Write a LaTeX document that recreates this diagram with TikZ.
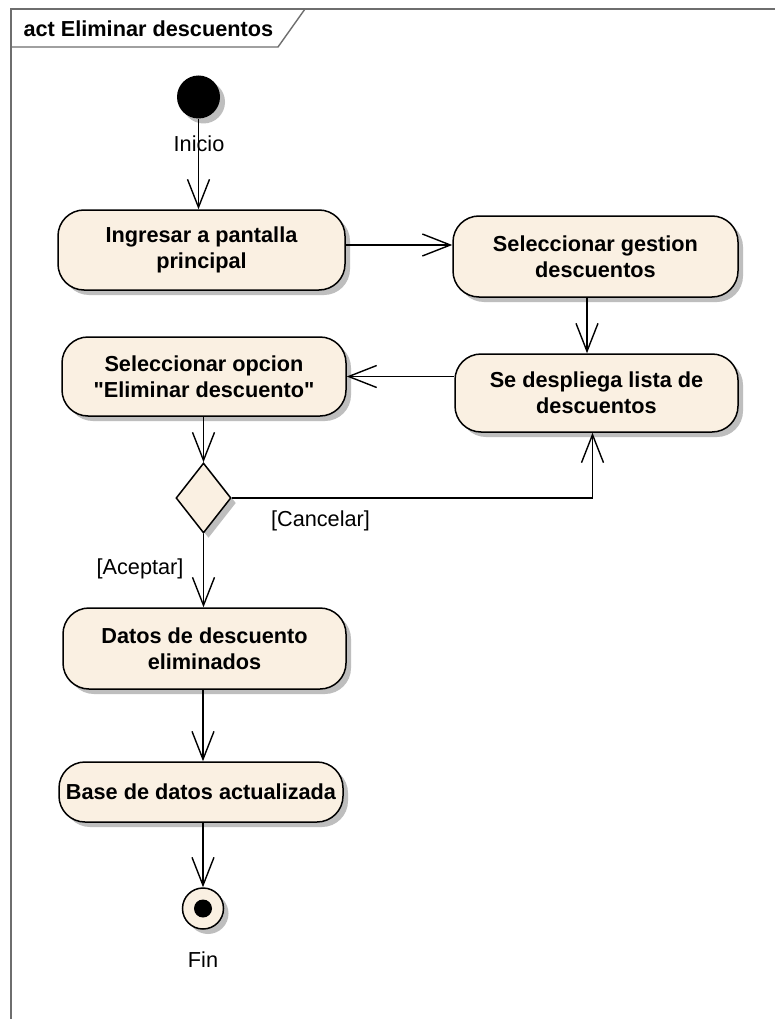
\documentclass[tikz,border=0pt]{standalone}
\usepackage{fontspec}
\setmainfont{Liberation Sans}
\usepackage{tikz}
\definecolor{actfill}{HTML}{FAF0E2}
\definecolor{framec}{HTML}{6E6E6E}
\definecolor{shade}{HTML}{BEBEBE}
\usetikzlibrary{shapes.geometric, arrows.meta, positioning, shadows}

\begin{document}
\begin{tikzpicture}[x=1pt, y=-1pt,
  every node/.style={font=\fontsize{21.7}{26}\selectfont},
  gshadow/.style={drop shadow={shadow xshift=5pt, shadow yshift=-5pt, fill=shade, opacity=1}},
  activity/.style={draw, line width=1.5pt, fill=actfill, rounded corners=26pt,
                   align=center, inner sep=0pt, gshadow,
                   font=\fontsize{21.7}{26}\selectfont\bfseries},
  decision/.style={diamond, draw, line width=1.5pt, fill=actfill, inner sep=0pt,
                   minimum width=55pt, minimum height=70pt, aspect=0.786, gshadow},
  flow/.style={line width=1.4pt, -{Straight Barb[length=28pt, width=22pt]}},
  guard/.style={inner sep=0pt}
]
  \clip (0,0) rectangle (775,1019);
  \fill[white] (0,0) rectangle (775,1019);

  % frame
  \draw[framec, line width=1.4pt] (11,9) rectangle (800,1040);
  \draw[framec, line width=1.4pt] (11,47) -- (278,47) -- (305,9);
  \node[anchor=west, font=\fontsize{21.7}{26}\selectfont\bfseries] (title) at (20,29) {act Eliminar descuentos};

  % start / end
  \node[circle, fill=black, minimum size=43pt, inner sep=0pt, gshadow] (init) at (198.5,97) {};
  \node[circle, draw, line width=1.5pt, fill=actfill, minimum size=41pt, inner sep=0pt, gshadow] (fin) at (203,908.5) {};
  \fill (fin) circle (9pt);

  % actions
  \node[activity, minimum width=287pt, minimum height=80pt] (ingresar) at (201.5,250) {Ingresar a pantalla\\principal};
  \node[activity, minimum width=285pt, minimum height=81pt] (gestion) at (595.5,256.5) {Seleccionar gestion\\descuentos};
  \node[activity, minimum width=283pt, minimum height=78pt] (lista) at (596.5,393) {Se despliega lista de\\descuentos};
  \node[activity, minimum width=284pt, minimum height=79pt] (opcion) at (204,376.5) {Seleccionar opcion\\\textquotedbl Eliminar descuento\textquotedbl};
  \node[decision] (dec) at (203.5,498) {};
  \node[activity, minimum width=283pt, minimum height=81pt] (datos) at (204.5,648.5) {Datos de descuento\\eliminados};
  \node[activity, minimum width=284pt, minimum height=60pt] (base) at (201,792) {Base de datos actualizada};

  % flows
  \draw[flow] (init.south) -- (init.south |- ingresar.north);
  \draw[flow] ([yshift=5pt]ingresar.east) coordinate (p1) -- (p1 -| gestion.west);
  \draw[flow] ([xshift=-8.5pt]gestion.south) coordinate (p2) -- (p2 |- lista.north);
  \draw[flow] (lista.west |- opcion.east) -- (opcion.east);
  \draw[flow] (opcion.south -| dec.north) -- (dec.north);
  \draw[flow] (dec.east) -| ([xshift=-4pt]lista.south);
  \draw[flow] (dec.south) -- (dec.south |- datos.north);
  \draw[flow] (datos.south -| fin.north) coordinate (p3) -- (p3 |- base.north);
  \draw[flow] (base.south -| fin.north) -- (fin.north);

  % labels
  \node[guard] (lblinicio) at (199,144) {Inicio};
  \node[guard] (lblfin) at (203,960) {Fin};
  \node[guard] (lblcancel) at (320.5,521) {[Cancelar]};
  \node[guard] (lblacept) at (140,569) {[Aceptar]};
\end{tikzpicture}
\end{document}
